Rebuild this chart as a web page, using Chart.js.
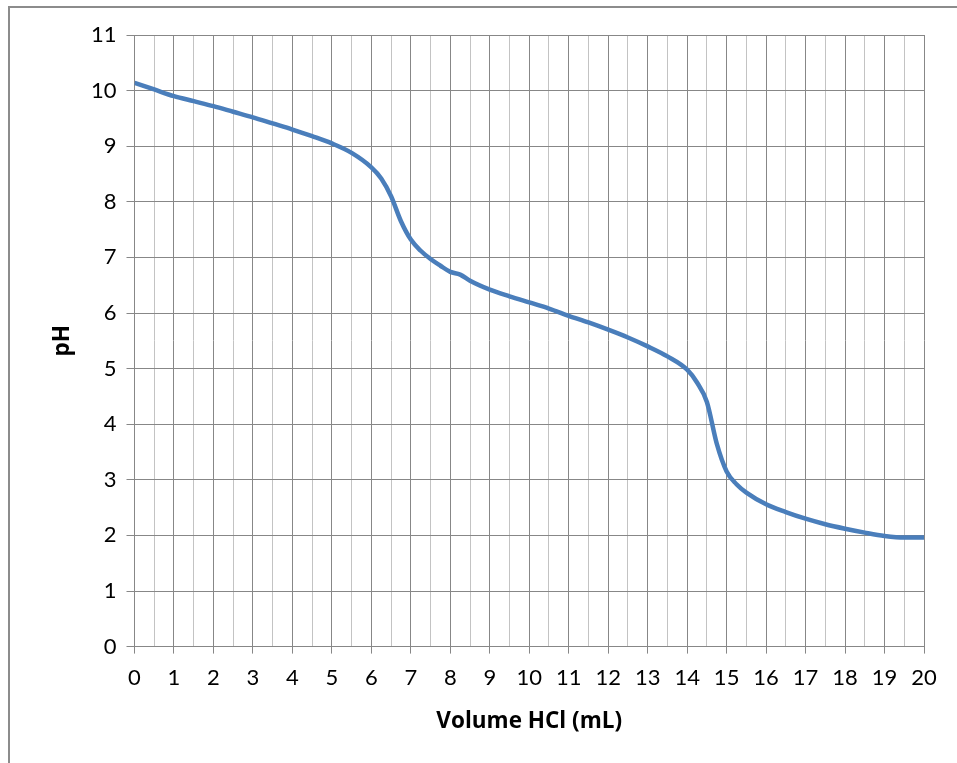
<!DOCTYPE html>
<html>
<head>
<meta charset="utf-8">
<script src="https://cdn.jsdelivr.net/npm/chart.js@4/dist/chart.umd.min.js"></script>
<style>
  html, body { margin: 0; padding: 0; background: #fff; }
  #wrap { position: relative; width: 957px; height: 763px; overflow: hidden; }
  #frame { position: absolute; left: 8px; top: 6px; width: 1000px; height: 1000px;
           border-top: 2px solid #8c8c8c; border-left: 2px solid #8c8c8c; box-sizing: border-box; }
  canvas { position: absolute; left: 0; top: 0; }
</style>
</head>
<body>
<div id="wrap">
  <div id="frame"></div>
  <canvas id="c" width="957" height="763"></canvas>
</div>
<script>
// Titration of a weak base with HCl: volume added (mL) and measured pH
const volumeHCl = [0, 0.5, 1, 1.5, 2, 2.5, 3, 3.5, 4, 4.5, 5, 5.5, 6, 6.25, 6.5, 6.75, 7, 7.25, 7.5, 7.75, 8, 8.25, 8.5, 9, 9.5, 10, 10.5, 11, 11.5, 12, 12.5, 13, 13.5, 14, 14.25, 14.5, 14.75, 15, 15.25, 15.5, 16, 16.5, 17, 17.5, 18, 18.5, 19, 19.5, 20];
const pH = [10.14, 10.02, 9.90, 9.81, 9.72, 9.62, 9.52, 9.41, 9.30, 9.18, 9.05, 8.88, 8.62, 8.42, 8.10, 7.65, 7.32, 7.12, 6.97, 6.85, 6.74, 6.69, 6.58, 6.42, 6.30, 6.19, 6.08, 5.95, 5.83, 5.70, 5.56, 5.40, 5.22, 4.98, 4.75, 4.40, 3.65, 3.15, 2.92, 2.77, 2.56, 2.42, 2.30, 2.20, 2.12, 2.05, 1.99, 1.96, 1.96];
const xTickLabels = ['0','1','2','3','4','5','6','7','8','9','10','11','12','13','14','15','16','17','18','19','20'];
const yTickLabels = ['0','1','2','3','4','5','6','7','8','9','10','11'];

const points = volumeHCl.map((v, i) => ({ x: v, y: pH[i] }));
const TICK_FONT = 'Lato, "Open Sans", sans-serif';
const TITLE_FONT = '"Open Sans", Lato, sans-serif';
const MAJOR = '#878787';
const MINOR = '#c3c3c3';
const isMajor = v => Math.abs(v - Math.round(v)) < 1e-6;

new Chart(document.getElementById('c'), {
  type: 'scatter',
  data: {
    datasets: [{
      data: points,
      showLine: true,
      borderColor: '#4a7ebb',
      borderWidth: 4.5,
      pointRadius: 0,
      cubicInterpolationMode: 'monotone',
      fill: false
    }]
  },
  options: {
    responsive: false,
    animation: false,
    layout: { padding: { left: 0, right: 33, top: 35, bottom: 0 } },
    plugins: { legend: { display: false }, tooltip: { enabled: false } },
    scales: {
      x: {
        type: 'linear',
        min: 0, max: 20,
        afterFit: s => { s.height = 116.4; },
        afterBuildTicks: s => {
          const t = [];
          for (let k = 0; k <= 40; k++) t.push({ value: k / 2 });
          s.ticks = t;
        },
        ticks: {
          autoSkip: false, maxRotation: 0, padding: 11,
          color: '#000', font: { family: TICK_FONT, size: 22 },
          callback: v => isMajor(v) ? xTickLabels[Math.round(v)] : ''
        },
        grid: {
          color: c => isMajor(c.tick.value) ? MAJOR : MINOR,
          tickColor: c => isMajor(c.tick.value) ? MAJOR : 'rgba(0,0,0,0)',
          tickLength: 7, lineWidth: 1
        },
        border: { color: MAJOR, width: 1 },
        title: {
          display: true, text: 'Volume HCl (mL)', color: '#000',
          font: { family: TITLE_FONT, size: 22.5, weight: 'bold' },
          padding: { top: 0, bottom: 28 }
        }
      },
      y: {
        type: 'linear',
        min: 0, max: 11,
        afterFit: s => { s.width = 134.5; },
        afterBuildTicks: s => {
          s.ticks = yTickLabels.map((_, k) => ({ value: k }));
        },
        ticks: {
          padding: 10, color: '#000', font: { family: TICK_FONT, size: 22 },
          callback: v => yTickLabels[Math.round(v)]
        },
        grid: { color: MAJOR, tickColor: MAJOR, tickLength: 8, lineWidth: 1 },
        border: { color: MAJOR, width: 1 },
        title: {
          display: true, text: 'pH', color: '#000',
          font: { family: TITLE_FONT, size: 22.5, weight: 'bold' },
          padding: { top: 49, bottom: 0 }
        }
      }
    }
  }
});
</script>
</body>
</html>
